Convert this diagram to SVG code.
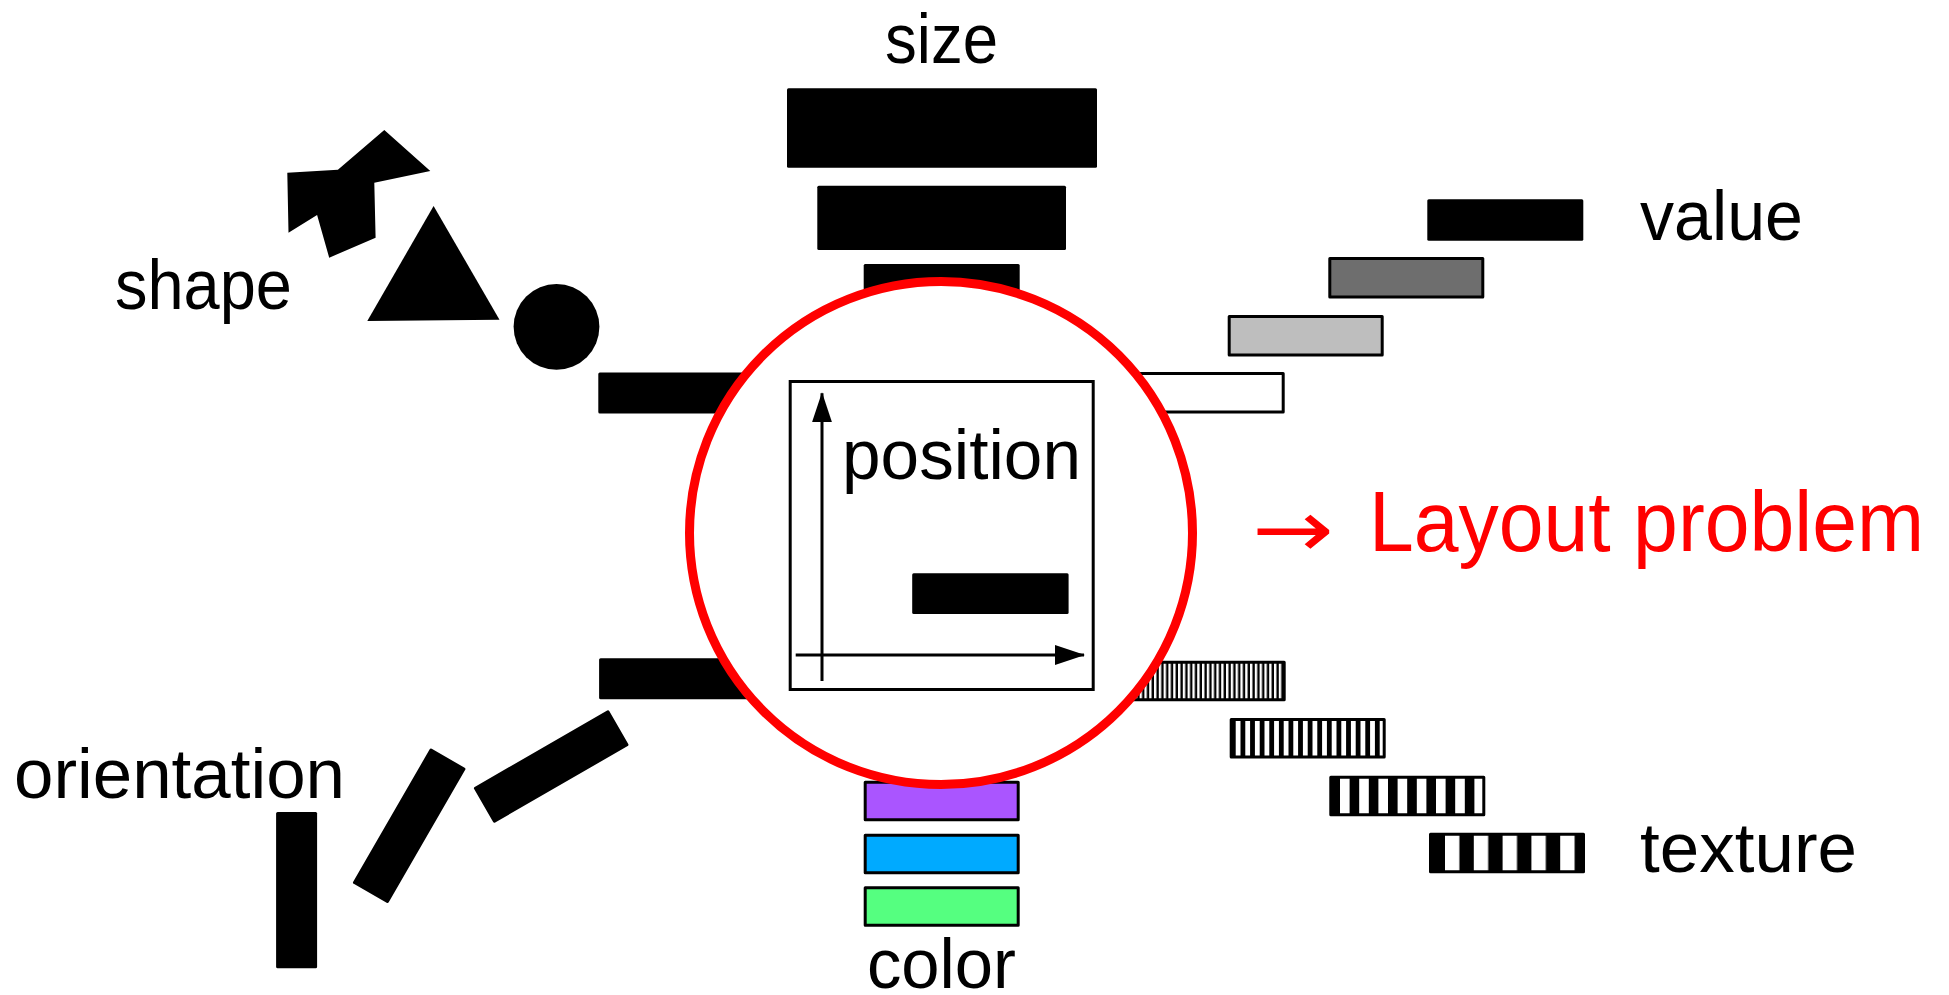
<svg xmlns="http://www.w3.org/2000/svg" width="1949" height="995" viewBox="0 0 1949 995">
  <style>
    .lbl { font-family: "Liberation Sans", Arial, sans-serif; font-size: 70px; fill: #000; }
    .bar { fill: #000; }
    .sbar { stroke: #000; stroke-width: 3; stroke-linejoin: round; }
    .red { font-family: "Liberation Sans", Arial, sans-serif; font-size: 86px; fill: #ff0000; }
    .sym { font-family: "DejaVu Sans", sans-serif; font-size: 80px; fill: #ff0000; }
    .axis { stroke: #000; stroke-width: 3; fill: none; }
  </style>
  <defs>
    <marker id="axisHead" viewBox="0 0 30 20" refX="29" refY="10" markerWidth="30" markerHeight="20" markerUnits="userSpaceOnUse" orient="auto">
      <path d="M0,0 L30,10 L0,20 z" fill="#000"/>
    </marker>
    <pattern id="tex1" patternUnits="userSpaceOnUse" x="1130" y="0" width="4.8" height="995">
      <rect width="4.8" height="995" fill="#000"/>
      <rect width="2.4" height="995" fill="#fff"/>
    </pattern>
    <pattern id="tex2" patternUnits="userSpaceOnUse" x="1235.7" y="0" width="9.6" height="995">
      <rect width="9.6" height="995" fill="#000"/>
      <rect width="4.8" height="995" fill="#fff"/>
    </pattern>
    <pattern id="tex3" patternUnits="userSpaceOnUse" x="1340" y="0" width="19.2" height="995">
      <rect width="19.2" height="995" fill="#000"/>
      <rect width="9.6" height="995" fill="#fff"/>
    </pattern>
    <pattern id="tex4" patternUnits="userSpaceOnUse" x="1445" y="0" width="28.8" height="995">
      <rect width="28.8" height="995" fill="#000"/>
      <rect width="14.4" height="995" fill="#fff"/>
    </pattern>
  </defs>

  <rect width="1949" height="995" fill="#fff"/>

  <!-- size: shrinking bars stacked above the centre -->
  <g id="size">
    <text class="lbl" x="885" y="62.7" textLength="113" lengthAdjust="spacingAndGlyphs">size</text>
    <rect class="bar" x="787" y="88.3" width="310" height="79.4" rx="1.5"/>
    <rect class="bar" x="817.3" y="185.7" width="248.7" height="64.3" rx="1.5"/>
    <rect class="bar" x="863.7" y="264" width="156" height="41" rx="1.5"/>
  </g>

  <!-- shape: assorted black glyph-like forms -->
  <g id="shape">
    <text class="lbl" x="115" y="309" textLength="177" lengthAdjust="spacingAndGlyphs">shape</text>
    <polygon points="287.3,172.7 337.9,169.7 384.3,130 430.3,171 374.3,182.7 375.6,237.7 329.2,257.7 317.1,215 288.5,232.7" fill="#000"/>
    <polygon points="433.6,206 367.3,321 499.5,319.7" fill="#000"/>
    <circle cx="556.5" cy="326.8" r="42.9" fill="#000"/>
    <rect class="bar" x="598.3" y="372.5" width="156" height="41" rx="1.5"/>
  </g>

  <!-- value: grey levels -->
  <g id="value">
    <text class="lbl" x="1640" y="240" textLength="163" lengthAdjust="spacingAndGlyphs">value</text>
    <rect class="bar" x="1427.3" y="199.3" width="156" height="41.4" rx="1.5"/>
    <rect class="sbar" x="1329.8" y="258.5" width="153" height="38.4" fill="#6e6e6e"/>
    <rect class="sbar" x="1229.2" y="316.5" width="153" height="38.4" fill="#bebebe"/>
    <rect class="sbar" x="1130.2" y="373.5" width="153" height="38.4" fill="#fff"/>
  </g>

  <!-- texture: stripe frequencies -->
  <g id="texture">
    <text class="lbl" x="1640" y="871.7" textLength="217" lengthAdjust="spacingAndGlyphs">texture</text>
    <rect class="sbar" x="1131.2" y="662.2" width="153" height="37.5" fill="url(#tex1)"/>
    <rect class="sbar" x="1231.2" y="719.5" width="153" height="37.5" fill="url(#tex2)"/>
    <rect class="sbar" x="1330.8" y="777.2" width="153" height="37.5" fill="url(#tex3)"/>
    <rect class="sbar" x="1430.5" y="834.2" width="153" height="37.5" fill="url(#tex4)"/>
  </g>

  <!-- orientation: the same bar at several angles -->
  <g id="orientation">
    <text class="lbl" x="14" y="798.3" textLength="331" lengthAdjust="spacingAndGlyphs">orientation</text>
    <rect class="bar" x="276.1" y="812" width="41" height="156.3" rx="1.5"/>
    <rect class="bar" x="-20.5" y="-78" width="41" height="156" rx="1.5" transform="translate(409.2,825.8) rotate(30)"/>
    <rect class="bar" x="-20.5" y="-78" width="41" height="156" rx="1.5" transform="translate(551.2,766.5) rotate(60)"/>
    <rect class="bar" x="599.1" y="658.3" width="156" height="41" rx="1.5"/>
  </g>

  <!-- color: hue swatches -->
  <g id="color">
    <rect class="sbar" x="865.2" y="782.2" width="153" height="37.5" fill="#aa55ff"/>
    <rect class="sbar" x="865.2" y="835.2" width="153" height="37.5" fill="#00aaff"/>
    <rect class="sbar" x="865.2" y="887.8" width="153" height="37.5" fill="#55ff80"/>
    <text class="lbl" x="867" y="988" textLength="149" lengthAdjust="spacingAndGlyphs">color</text>
  </g>

  <!-- position: highlighted channel in the middle -->
  <g id="position">
    <circle cx="941" cy="533" r="251.5" fill="#fff" stroke="#ff0000" stroke-width="9"/>
    <rect x="790.2" y="381.5" width="303" height="308" fill="none" stroke="#000" stroke-width="3"/>
    <line class="axis" x1="822" y1="681" x2="822" y2="393.3" marker-end="url(#axisHead)"/>
    <line class="axis" x1="795.7" y1="655" x2="1084" y2="655" marker-end="url(#axisHead)"/>
    <text class="lbl" x="842" y="479" textLength="239" lengthAdjust="spacingAndGlyphs">position</text>
    <rect class="bar" x="912.2" y="573.3" width="156.4" height="40.7" rx="1.5"/>
  </g>

  <!-- conclusion -->
  <g id="layout-problem">
    <text class="sym" x="1252" y="557" textLength="82" lengthAdjust="spacingAndGlyphs">→</text>
    <text class="red" x="1369" y="550.7" textLength="555" lengthAdjust="spacingAndGlyphs">Layout problem</text>
  </g>
</svg>
